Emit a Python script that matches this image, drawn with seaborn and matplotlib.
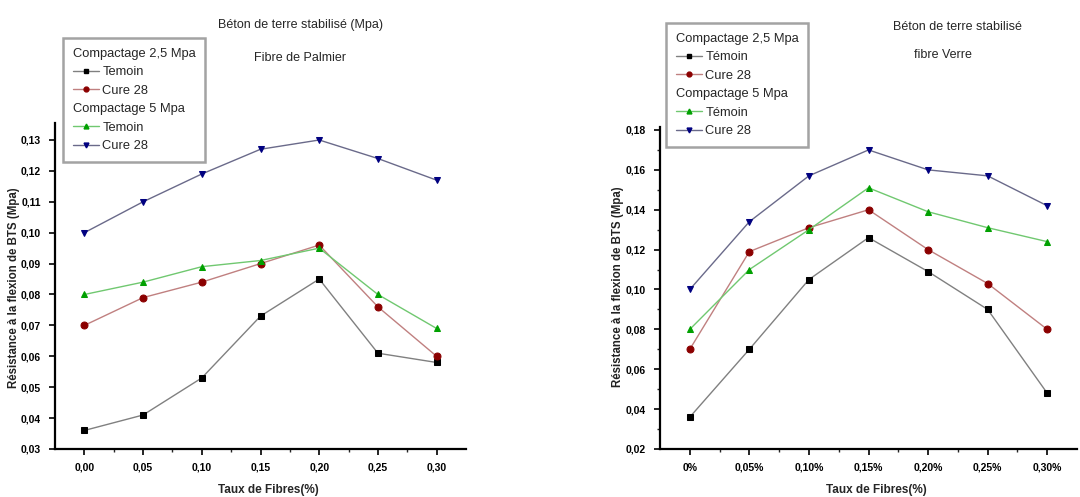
import numpy as np
import pandas as pd
import matplotlib
matplotlib.use("Agg")
import matplotlib.pyplot as plt
from matplotlib.lines import Line2D
from matplotlib.ticker import MultipleLocator, FixedLocator
import seaborn as sns

sns.set_theme(style="white")
plt.rcParams['font.family'] = ['Liberation Sans', 'DejaVu Sans']

# ---------------- data ----------------
left_xlabels = ["0,00", "0,05", "0,10", "0,15", "0,20", "0,25", "0,30"]
right_xlabels = ["0%", "0,05%", "0,10%", "0,15%", "0,20%", "0,25%", "0,30%"]

palm_temoin_25 = [0.036, 0.041, 0.053, 0.073, 0.085, 0.061, 0.058]
palm_cure_25 = [0.070, 0.079, 0.084, 0.090, 0.096, 0.076, 0.060]
palm_temoin_5 = [0.080, 0.084, 0.089, 0.091, 0.095, 0.080, 0.069]
palm_cure_5 = [0.100, 0.110, 0.119, 0.127, 0.130, 0.124, 0.117]

verre_temoin_25 = [0.036, 0.070, 0.105, 0.126, 0.109, 0.090, 0.048]
verre_cure_25 = [0.070, 0.119, 0.131, 0.140, 0.120, 0.103, 0.080]
verre_temoin_5 = [0.080, 0.110, 0.130, 0.151, 0.139, 0.131, 0.124]
verre_cure_5 = [0.100, 0.134, 0.157, 0.170, 0.160, 0.157, 0.142]

left_title = "Béton de terre stabilisé (Mpa)"
left_sub = "Fibre de Palmier"
right_title = "Béton de terre stabilisé"
right_sub = "fibre Verre"
ylabel = "Résistance à la flexion de BTS (Mpa)"
xlabel = "Taux de Fibres(%)"

# styles: (marker, marker color, line color)
styles = [
    ("s", "#000000", "#808080"),
    ("o", "#8b0000", "#c08080"),
    ("^", "#00a000", "#70c870"),
    ("v", "#000080", "#6a6a8a"),
]

fig = plt.figure(figsize=(10.8, 4.97), dpi=100)
W, H = 1080, 497
axL = fig.add_axes([55 / W, 1 - 449 / H, (466 - 55) / W, (449 - 123) / H])
axR = fig.add_axes([660 / W, 1 - 449 / H, (1077 - 660) / W, (449 - 127) / H])


def draw(ax, series, labels_x, ylim, ymaj, ymin_step, legend_labels, leg_pos,
         ylab_xy, xlab_xy):
    x = np.arange(len(labels_x))
    handles = []
    for vals, (mk, mc, lc) in zip(series, styles):
        df = pd.DataFrame({"x": x, "y": vals})
        sns.lineplot(data=df, x="x", y="y", ax=ax, color=lc, linewidth=1.0,
                     marker=mk, markersize=5.0, markerfacecolor=mc,
                     markeredgecolor=mc, legend=False)
        handles.append(Line2D([], [], color=lc, linewidth=1.0, marker=mk,
                              markersize=3.5, markerfacecolor=mc, markeredgecolor=mc))
    ax.set_xlim(-0.5, len(labels_x) - 0.5)
    ax.set_ylim(*ylim)
    ax.xaxis.set_major_locator(FixedLocator(x))
    ax.set_xticklabels(labels_x)
    ax.xaxis.set_minor_locator(FixedLocator(x[:-1] + 0.5))
    ax.yaxis.set_major_locator(MultipleLocator(ymaj))
    if ymin_step:
        ax.yaxis.set_minor_locator(MultipleLocator(ymin_step))
    ax.yaxis.set_major_formatter(plt.FuncFormatter(lambda v, p: f"{v:.2f}".replace(".", ",")))
    for s in ["top", "right"]:
        ax.spines[s].set_visible(False)
    for s in ["left", "bottom"]:
        ax.spines[s].set_color("black")
        ax.spines[s].set_linewidth(1.6)
    ax.tick_params(axis="both", which="major", direction="out", length=4, width=1.2,
                   labelsize=7.5, colors="black", bottom=True, left=True, pad=6)
    ax.tick_params(axis="both", which="minor", direction="out", length=2.5, width=1.0,
                   bottom=True, left=True)
    for t in ax.get_xticklabels() + ax.get_yticklabels():
        t.set_fontweight("bold")
    ax.set_xlabel(xlabel, fontsize=8.5, fontweight="bold", va="center")
    ax.set_ylabel(ylabel, fontsize=8.3, fontweight="bold", color="#222222", va="center")
    ax.yaxis.set_label_coords(*ylab_xy)
    ax.xaxis.set_label_coords(*xlab_xy)
    ax.grid(False)

    header = Line2D([], [], linestyle="none")
    hs = [header, handles[0], handles[1], header, handles[2], handles[3]]
    leg = fig.legend(hs, legend_labels, loc="upper left",
                     bbox_to_anchor=leg_pos, bbox_transform=fig.transFigure,
                     borderaxespad=0, frameon=True, fancybox=False, shadow=False,
                     fontsize=9.3, handlelength=2.0, handletextpad=0.3,
                     labelspacing=0.5, borderpad=0.75)
    leg.get_frame().set_edgecolor("#8c8c8c")
    leg.get_frame().set_linewidth(1.8)
    headers = {legend_labels[0], legend_labels[3]}
    for col in leg._legend_handle_box.get_children():
        for row in col.get_children():
            h, t = row.get_children()
            if t.get_text() in headers:
                h.width = 0
                row.sep = 0
    return leg


draw(axL, [palm_temoin_25, palm_cure_25, palm_temoin_5, palm_cure_5],
     left_xlabels, (0.03, 0.1355), 0.01, None,
     ["Compactage 2,5 Mpa", "Temoin", "Cure 28", "Compactage 5 Mpa", "Temoin", "Cure 28"],
     (63 / W, 1 - 38 / H), (-0.1, 0.494), (0.518, -0.126))
draw(axR, [verre_temoin_25, verre_cure_25, verre_temoin_5, verre_cure_5],
     right_xlabels, (0.02, 0.1815), 0.02, 0.01,
     ["Compactage 2,5 Mpa", "Témoin", "Cure 28", "Compactage 5 Mpa", "Témoin", "Cure 28"],
     (666 / W, 1 - 23 / H), (-0.1, 0.503), (0.52, -0.127))

fig.text(300 / W, 1 - 25 / H, left_title, ha="center", va="center", fontsize=9)
fig.text(300 / W, 1 - 58 / H, left_sub, ha="center", va="center", fontsize=9)
fig.text(957 / W, 1 - 27 / H, right_title, ha="center", va="center", fontsize=9)
fig.text(943 / W, 1 - 55 / H, right_sub, ha="center", va="center", fontsize=9)

fig.savefig("out.png", dpi=100, facecolor="white")
